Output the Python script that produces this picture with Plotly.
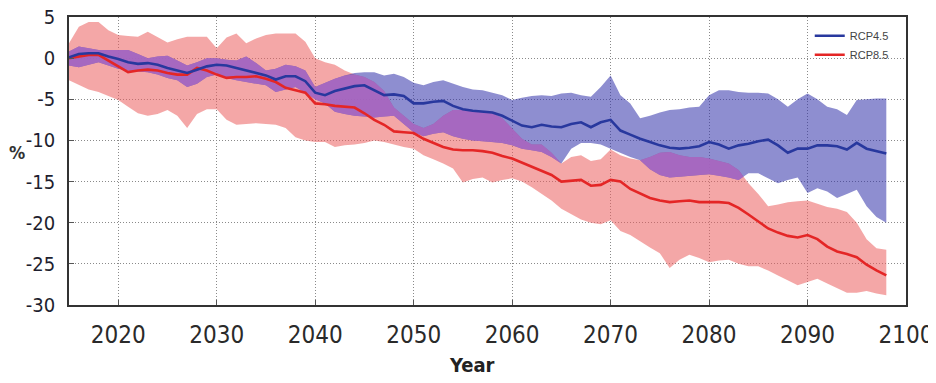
import plotly.graph_objects as go

years = list(range(2015, 2099))

# RCP4.5 ensemble mean and spread
rcp45_mean = [
    0.1, 0.5, 0.6, 0.6, 0.2, -0.1, -0.5, -0.7, -0.6, -0.8,
    -1.2, -1.5, -1.8, -1.4, -1.0, -0.8, -0.9, -1.2, -1.5, -1.8,
    -2.1, -2.6, -2.2, -2.2, -2.8, -4.2, -4.5, -4.0, -3.7, -3.4,
    -3.3, -3.9, -4.5, -4.4, -4.6, -5.5, -5.5, -5.3, -5.2, -5.8,
    -6.2, -6.4, -6.5, -6.6, -7.0, -7.6, -8.2, -8.4, -8.1, -8.3,
    -8.4, -8.0, -7.8, -8.4, -7.8, -7.5, -8.8, -9.3, -9.8, -10.2,
    -10.6, -10.9, -11.0, -10.9, -10.7, -10.2, -10.5, -11.0, -10.6, -10.4,
    -10.1, -9.9, -10.6, -11.5, -11.0, -11.0, -10.6, -10.6, -10.7, -11.1,
    -10.3, -11.0, -11.3, -11.6]
rcp45_upper = [
    0.8, 1.4, 1.2, 1.0, 1.0, 1.0, 1.0, 0.5, 0.0, 0.2,
    0.3, -0.3, -0.9, -0.5, 0.0, 0.0, -0.2, -0.3, 0.2, -0.6,
    -1.5, -1.3, -0.8, -1.0, -1.5, -3.5, -3.0, -2.5, -2.1, -1.8,
    -1.7, -1.7, -2.1, -1.9, -2.3, -3.0, -3.3, -2.9, -2.7, -3.1,
    -3.5, -3.8, -3.9, -4.2, -4.5, -5.1, -4.8, -4.6, -4.5, -4.6,
    -4.3, -4.2, -4.5, -4.7, -3.5, -2.1, -4.5, -5.5, -7.3, -7.0,
    -6.6, -6.3, -6.2, -6.0, -5.9, -4.5, -3.9, -3.9, -4.1, -4.2,
    -4.2, -4.3, -5.0, -5.9, -5.0, -4.3, -5.0, -5.9, -6.2, -6.9,
    -5.1, -5.0, -4.9, -4.9]
rcp45_lower = [
    -0.9, -1.1, -0.8, -0.5, -0.9, -1.3, -1.5, -1.6, -1.7, -2.0,
    -2.4, -2.7, -3.5, -3.1, -2.3, -2.0, -2.4, -2.7, -2.9, -3.1,
    -3.3, -4.1, -3.8, -3.5, -4.2, -5.0, -5.5, -6.5, -6.8, -7.0,
    -7.1, -7.2, -7.1, -7.0, -8.0, -9.0, -9.5, -9.2, -9.0, -9.5,
    -9.8, -10.0, -10.1, -10.2, -10.3, -10.6, -11.0, -11.2, -11.4, -12.0,
    -12.8, -11.0, -10.3, -10.3, -10.5, -11.0, -11.5, -12.0, -12.4, -13.5,
    -14.2, -14.5, -14.4, -14.3, -14.2, -14.1, -14.3, -14.5, -14.8, -14.0,
    -14.0, -14.6, -15.2, -14.8, -14.5, -16.4, -15.8, -16.2, -17.0, -16.5,
    -16.0, -18.0, -19.3, -20.0]

# RCP8.5 ensemble mean and spread
rcp85_mean = [
    0.0, 0.2, 0.4, 0.4, -0.3, -1.0, -1.7, -1.5, -1.4, -1.5,
    -1.8, -2.0, -2.0, -1.2, -1.5, -2.0, -2.4, -2.3, -2.3, -2.2,
    -2.5, -2.9, -3.6, -3.9, -4.2, -5.5, -5.6, -5.8, -5.9, -6.0,
    -6.7, -7.5, -8.1, -8.9, -9.0, -9.1, -9.8, -10.3, -10.8, -11.1,
    -11.2, -11.2, -11.3, -11.5, -11.9, -12.2, -12.7, -13.2, -13.7, -14.2,
    -15.0, -14.9, -14.8, -15.5, -15.4, -14.8, -15.0, -15.9, -16.5, -17.0,
    -17.3, -17.5, -17.4, -17.3, -17.5, -17.5, -17.5, -17.6, -18.2, -19.0,
    -19.9, -20.7, -21.2, -21.6, -21.8, -21.5, -22.0, -22.9, -23.5, -23.8,
    -24.2, -25.1, -25.8, -26.4]
rcp85_upper = [
    1.8, 3.8, 4.4, 4.4, 3.4, 2.8, 2.7, 2.6, 3.2, 2.6,
    1.9, 2.3, 2.6, 2.6, 2.6, 1.2, 2.5, 3.0, 1.8, 2.4,
    2.8, 3.0, 3.0, 3.0, 2.0, 0.0, -0.5, -0.8, -1.5, -2.0,
    -2.3, -2.9, -4.0, -6.0, -7.0, -8.0, -8.5, -8.0, -7.0, -6.3,
    -6.3, -6.3, -6.5, -6.7, -7.3, -8.5, -9.8, -10.5, -10.5, -11.5,
    -12.8, -12.0, -11.8, -12.5, -12.3, -11.1, -11.8, -12.2, -12.4, -12.0,
    -11.5, -11.4, -11.8, -12.0, -12.0, -12.2, -12.5, -12.8, -13.6, -15.2,
    -16.5, -18.0, -17.8, -17.5, -17.4, -17.3, -17.7, -18.1, -18.3, -18.7,
    -20.0, -22.0, -23.1, -23.3]
rcp85_lower = [
    -2.7, -3.3, -3.8, -4.1, -4.6, -5.1, -5.9, -6.7, -7.0, -6.8,
    -6.3, -7.0, -8.5, -6.8, -6.2, -6.2, -7.5, -8.1, -8.0, -7.9,
    -8.0, -8.1, -8.5, -9.6, -10.0, -10.2, -10.2, -10.8, -10.6, -10.5,
    -10.3, -10.0, -10.2, -10.5, -10.8, -11.0, -11.8, -12.3, -12.8, -13.4,
    -15.1, -14.7, -14.5, -15.1, -14.8, -14.6, -15.0, -15.7, -16.5, -17.3,
    -18.3, -19.0, -19.6, -20.0, -20.2, -19.7, -21.0, -21.5, -22.3, -23.0,
    -23.7, -25.5, -24.5, -23.9, -24.3, -24.8, -24.6, -24.5, -25.0, -25.3,
    -25.3, -25.8, -26.4, -27.0, -27.6, -27.2, -26.8, -27.4, -28.0, -28.5,
    -28.5, -28.3, -28.6, -28.8]

x_ticks = [2020, 2030, 2040, 2050, 2060, 2070, 2080, 2090, 2100]
y_ticks = [5, 0, -5, -10, -15, -20, -25, -30]

BLUE = "rgb(40,56,158)"
RED = "rgb(228,38,38)"
BLUE_BAND = "rgba(50,50,170,0.55)"
RED_BAND = "rgba(235,95,95,0.55)"
OVERLAP = "rgba(172,104,196,0.85)"


def overlap_polygons(xs, lo, hi):
    """Polygons (separated by None) where the two ensemble ranges overlap."""
    px, py = [], []
    seg = []

    def close(seg):
        if len(seg) >= 2:
            px.extend([p[0] for p in seg] + [p[0] for p in reversed(seg)] + [None])
            py.extend([p[2] for p in seg] + [p[1] for p in reversed(seg)] + [None])

    n = len(xs)
    for i in range(n):
        d = hi[i] - lo[i]
        if d > 0:
            seg.append((xs[i], lo[i], hi[i]))
        if i < n - 1:
            d2 = hi[i + 1] - lo[i + 1]
            if (d > 0) != (d2 > 0):
                t = d / (d - d2)
                xc = xs[i] + t * (xs[i + 1] - xs[i])
                yc = lo[i] + t * (lo[i + 1] - lo[i])
                seg.append((xc, yc, yc))
                if d > 0:
                    close(seg)
                    seg = []
    close(seg)
    return px, py


ov_lo = [max(a, b) for a, b in zip(rcp45_lower, rcp85_lower)]
ov_hi = [min(a, b) for a, b in zip(rcp45_upper, rcp85_upper)]
ov_x, ov_y = overlap_polygons(years, ov_lo, ov_hi)

fig = go.Figure()

fig.add_trace(go.Scatter(x=years, y=rcp85_upper, mode="lines", line=dict(width=0),
                         showlegend=False, hoverinfo="skip"))
fig.add_trace(go.Scatter(x=years, y=rcp85_lower, mode="lines", line=dict(width=0),
                         fill="tonexty", fillcolor=RED_BAND, showlegend=False, hoverinfo="skip"))
fig.add_trace(go.Scatter(x=years, y=rcp45_upper, mode="lines", line=dict(width=0),
                         showlegend=False, hoverinfo="skip"))
fig.add_trace(go.Scatter(x=years, y=rcp45_lower, mode="lines", line=dict(width=0),
                         fill="tonexty", fillcolor=BLUE_BAND, showlegend=False, hoverinfo="skip"))
fig.add_trace(go.Scatter(x=ov_x, y=ov_y, mode="lines", line=dict(width=0),
                         fill="toself", fillcolor=OVERLAP, showlegend=False, hoverinfo="skip"))
fig.add_trace(go.Scatter(x=years, y=rcp85_mean, mode="lines", name="RCP8.5",
                         line=dict(color=RED, width=2.6)))
fig.add_trace(go.Scatter(x=years, y=rcp45_mean, mode="lines", name="RCP4.5",
                         line=dict(color=BLUE, width=2.6)))

cond = "DejaVu Sans Condensed, Roboto, sans-serif"

# The page body has an 8px margin, so the figure is 8px smaller than the window
fig.update_layout(
    width=928, height=375,
    margin=dict(l=61, r=30, t=9, b=78, autoexpand=False),
    paper_bgcolor="white", plot_bgcolor="white",
    showlegend=True,
    legend=dict(x=0.885, y=0.985, xanchor="left", yanchor="top",
                traceorder="reversed",
                bgcolor="rgba(0,0,0,0)", borderwidth=0,
                font=dict(family="Liberation Sans, Arial, sans-serif", size=11, color="#444")),
    xaxis=dict(range=[2015, 2100], tickvals=x_ticks, ticktext=[str(v) for v in x_ticks],
               automargin=False, ticklabeloverflow="allow",
               showgrid=True, gridcolor="#8a8a8a", griddash="1px,2px", gridwidth=1,
               showline=True, linecolor="#333", linewidth=1.5, mirror=True,
               ticks="inside", ticklen=5, tickcolor="#555",
               tickfont=dict(family=cond, size=24, color="#2a2a2a"),
               ticklabelstandoff=7, zeroline=False),
    yaxis=dict(range=[-30, 5], tickvals=y_ticks, ticktext=[str(v) for v in y_ticks],
               automargin=False, ticklabeloverflow="allow",
               showgrid=True, gridcolor="#8a8a8a", griddash="1px,2px", gridwidth=1,
               showline=True, linecolor="#333", linewidth=1.5, mirror=True,
               ticks="inside", ticklen=5, tickcolor="#555",
               tickfont=dict(family=cond, size=20, color="#1e1e2e"),
               ticklabelstandoff=8, zeroline=False),
    annotations=[
        dict(text="<b>Year</b>", xref="paper", yref="paper", x=0.482, y=-0.21,
             xanchor="center", yanchor="middle", showarrow=False,
             font=dict(family=cond, size=20, color="#222")),
        dict(text="<b>%</b>", xref="paper", yref="paper", x=-0.062, y=0.528,
             xanchor="center", yanchor="middle", showarrow=False,
             font=dict(family=cond, size=18, color="#333")),
    ],
)

fig.write_html("out.html")
